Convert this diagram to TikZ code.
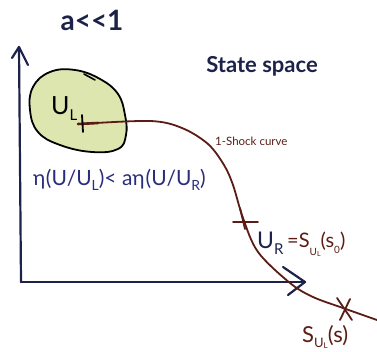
\documentclass[tikz,border=0pt]{standalone}
\usepackage{fontspec}
\setmainfont{Lato}[Ligatures=NoCommon]
\definecolor{navy}{HTML}{1C2248}
\definecolor{ink}{HTML}{2A2E7A}
\definecolor{brn}{HTML}{5A1C14}
\definecolor{blobfill}{HTML}{DDE6AE}
\tikzset{
  axis/.style={draw=navy, line width=2.2pt, line cap=round, line join=round},
  shock/.style={draw=brn, line width=1.8pt, line cap=round},
  tick/.style={line width=1.8pt, line cap=round},
  lbl/.style={inner sep=0pt, anchor=base west},
}
\newcommand{\fs}[1]{\fontsize{#1}{#1}\selectfont}
\begin{document}
\begin{tikzpicture}[x=1pt,y=-1pt]
\useasboundingbox (0,0) rectangle (377,352);
% title
\node[inner sep=0pt, text=navy] (title) at (92,20) {\fs{28}\bfseries a{<}{<}1};
\node[inner sep=0pt, text=navy] (ss) at (262,66) {\fs{22}\bfseries State space};
% axes
\coordinate (O) at (21,282);
\coordinate (ytip) at (19,47);
\coordinate (xtip) at (305,282);
\draw[axis] (O) -- (ytip);
\draw[axis] (12,58) -- (ytip) -- (28,65);
\draw[axis] (O) -- (xtip);
\draw[axis] (283,267) -- (xtip) -- (288,295);
% blob
\draw[fill=blobfill, draw=black, line width=1.8pt]
  plot[smooth cycle, tension=0.7] coordinates {(33,87) (50,72) (75,70) (100,79) (118,94) (125,115) (126,135) (118,149) (92,152) (60,145) (38,132) (30,110)};
\draw[black, line width=1.6pt, line cap=round] (84,74) -- (95,80);
\node[lbl, text=black] (UL) at (51,115) {\fs{25}U\raisebox{-0.4ex}{\fs{15}L}};
% shock curve
\draw[shock] plot[smooth, tension=0.55] coordinates {(80,124) (150,121) (182,128) (208,144) (224,165) (233,185) (243,218) (258,252) (290,283) (313,297) (343,308) (377,320)};
\draw[brn, tick, line width=2.6pt] (78,124) -- (98,123);
\draw[black, tick] (82,115) -- (83,132);
\node[lbl, text=brn] (sc) at (215,146) {\fs{11.5}1-Shock curve};
% inequality
\node[lbl, text=ink] (ineq) at (33,186) {\fs{21}η\hspace{0.5pt}(U/U\raisebox{-0.45ex}{\fs{14}L})< aη\hspace{1pt}(U/U\raisebox{-0.45ex}{\fs{14}R})};
% U_R mark
\draw[brn, tick] (233,222) -- (258,222);
\draw[brn, tick] (240,208) -- (245,229);
\node[lbl, text=navy] (UR) at (257,249) {\fs{23}U\raisebox{-0.45ex}{\fs{15}R}};
\node[lbl, text=brn] (SUL0) at (287,248) {\fs{20}=S\raisebox{-0.7ex}{\fs{10}U\raisebox{-0.3ex}{\fs{7}L}}(s\raisebox{-0.5ex}{\fs{10}0})};
% S mark
\draw[brn, tick] (337,298) -- (352,320);
\draw[brn, tick] (350,299) -- (340,320);
\node[lbl, text=brn] (SUL) at (302,342) {\fs{22}S\raisebox{-0.45ex}{\fs{13}U\raisebox{-0.25ex}{\fs{8}L}}(s)};
\end{tikzpicture}
\end{document}
